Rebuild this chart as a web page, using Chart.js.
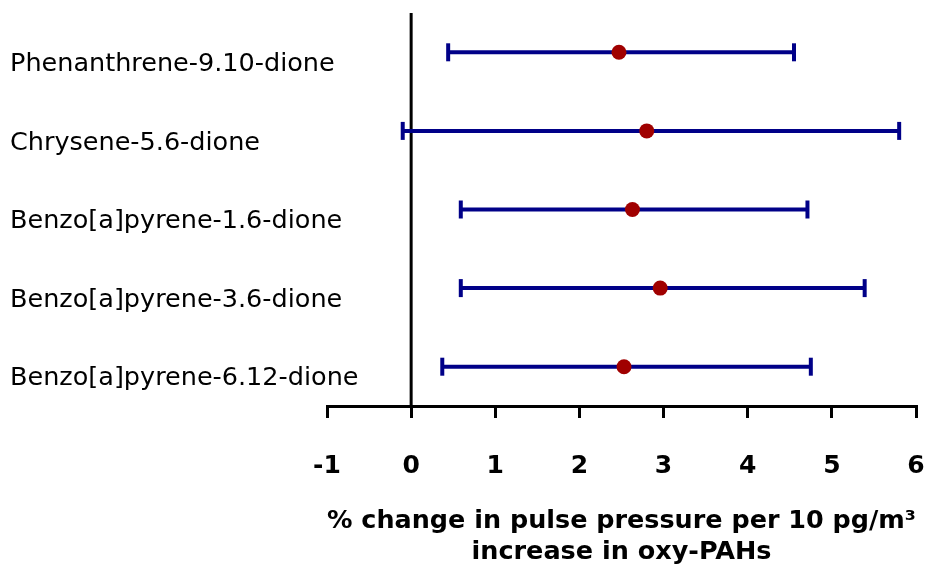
<!DOCTYPE html>
<html>
<head>
<meta charset="utf-8">
<script src="https://cdn.jsdelivr.net/npm/chart.js@4"></script>
<style>
  html, body { margin: 0; padding: 0; background: #ffffff; }
  #wrap { width: 929px; height: 570px; }
</style>
</head>
<body>
<div id="wrap"><canvas id="c" width="929" height="570"></canvas></div>
<script>
const categories = [
  'Phenanthrene-9.10-dione',
  'Chrysene-5.6-dione',
  'Benzo[a]pyrene-1.6-dione',
  'Benzo[a]pyrene-3.6-dione',
  'Benzo[a]pyrene-6.12-dione'
];
const estimates = [2.47, 2.80, 2.63, 2.96, 2.53];
const lowerCI   = [0.44, -0.10, 0.59, 0.59, 0.37];
const upperCI   = [4.55, 5.80, 4.71, 5.39, 4.75];
const xTicks    = [-1, 0, 1, 2, 3, 4, 5, 6];
const xTitle    = ['% change in pulse pressure per 10 pg/m³', 'increase in oxy-PAHs'];

const NAVY = '#000088';
const RED = '#a00000';

const datasets = [];
// point estimates
datasets.push({
  label: 'estimate',
  data: categories.map((c, i) => ({ x: estimates[i], y: i + 1 })),
  showLine: false,
  pointStyle: 'circle',
  pointRadius: 7.5,
  pointBackgroundColor: RED,
  pointBorderColor: RED,
  pointBorderWidth: 0,
  order: 0
});
// confidence intervals
categories.forEach((c, i) => {
  datasets.push({
    label: c,
    data: [{ x: lowerCI[i], y: i + 1 }, { x: upperCI[i], y: i + 1 }],
    showLine: true,
    borderColor: NAVY,
    borderWidth: 4,
    pointStyle: 'line',
    pointRotation: 90,
    pointRadius: 9,
    pointBorderWidth: 4,
    pointBorderColor: NAVY,
    order: 1
  });
});
// zero reference line
datasets.push({
  label: 'zero',
  data: [{ x: 0, y: 0.5 }, { x: 0, y: categories.length + 0.5 }],
  showLine: true,
  borderColor: '#000000',
  borderWidth: 3,
  pointRadius: 0,
  order: 2
});

new Chart(document.getElementById('c'), {
  type: 'scatter',
  data: { datasets },
  options: {
    responsive: false,
    animation: false,
    events: [],
    clip: false,
    layout: { padding: { left: 10, right: 12, top: 12, bottom: 0 } },
    plugins: { legend: { display: false }, tooltip: { enabled: false } },
    scales: {
      x: {
        type: 'linear',
        min: xTicks[0],
        max: xTicks[xTicks.length - 1],
        afterBuildTicks: s => { s.ticks = xTicks.map(v => ({ value: v })); },
        afterFit: s => { s.height = 164; s.paddingLeft = 0; s.paddingRight = 0; },
        grid: { drawOnChartArea: false, drawTicks: true, tickLength: 12, color: '#000000', lineWidth: 3 },
        border: { display: true, color: '#000000', width: 3 },
        ticks: {
          color: '#000000',
          padding: 33,
          maxRotation: 0,
          font: { family: 'DejaVu Sans', size: 25, weight: 'bold' }
        },
        title: {
          display: true,
          text: xTitle,
          color: '#000000',
          padding: { top: 0, bottom: 3 },
          font: { family: 'DejaVu Sans', size: 25.5, weight: 'bold', lineHeight: 1.18 }
        }
      },
      y: {
        type: 'linear',
        reverse: true,
        min: 0.5,
        max: categories.length + 0.5,
        afterBuildTicks: s => { s.ticks = categories.map((c, i) => ({ value: i + 1 })); },
        afterFit: s => { s.width = 317; s.paddingTop = 0; s.paddingBottom = 0; },
        grid: { display: false },
        border: { display: false },
        ticks: {
          color: '#000000',
          mirror: true,
          crossAlign: 'near',
          padding: -317,
          labelOffset: 12,
          callback: v => categories[v - 1],
          font: { family: 'DejaVu Sans', size: 25.5 }
        }
      }
    }
  }
});
</script>
</body>
</html>
